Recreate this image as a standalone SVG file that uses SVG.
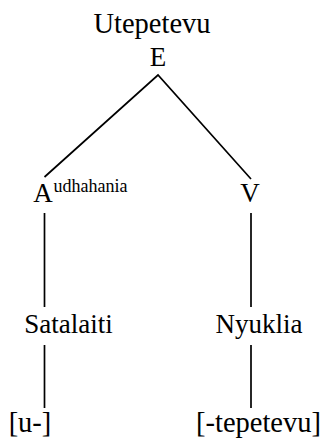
<svg xmlns="http://www.w3.org/2000/svg" width="323" height="439" viewBox="0 0 323 439">
<style>
text{font-family:"Liberation Serif","Times New Roman",serif;fill:#000;font-size:27px;text-anchor:middle}
.sup{font-size:18px;text-anchor:start}
.e{stroke:#000;stroke-width:1.7;fill:none}
</style>
<rect width="323" height="439" fill="#fff"/>
<g id="connectors">
<path class="e" d="M44.5,177 L158,75 L251,179"/>
<line class="e" x1="44.5" y1="213" x2="44.5" y2="307"/>
<line class="e" x1="251" y1="213" x2="251" y2="307"/>
<line class="e" x1="44.5" y1="345" x2="44.5" y2="408"/>
<line class="e" x1="251" y1="345" x2="251" y2="408"/>
</g>
<g id="node-root">
<text x="152" y="33" style="font-size:28.5px">Utepetevu</text>
<text x="158" y="66">E</text>
</g>
<g id="node-A">
<text x="43" y="202">A</text>
<text class="sup" x="53.5" y="192">udhahania</text>
</g>
<g id="node-V">
<text x="250" y="202">V</text>
</g>
<g id="node-satalaiti">
<text x="68.5" y="333">Satalaiti</text>
</g>
<g id="node-nyuklia">
<text x="259" y="333">Nyuklia</text>
</g>
<g id="node-u">
<text x="30" y="432" style="font-size:28.5px">[u-]</text>
</g>
<g id="node-tepetevu">
<text x="258.5" y="432" style="font-size:28.5px">[-tepetevu]</text>
</g>
</svg>
